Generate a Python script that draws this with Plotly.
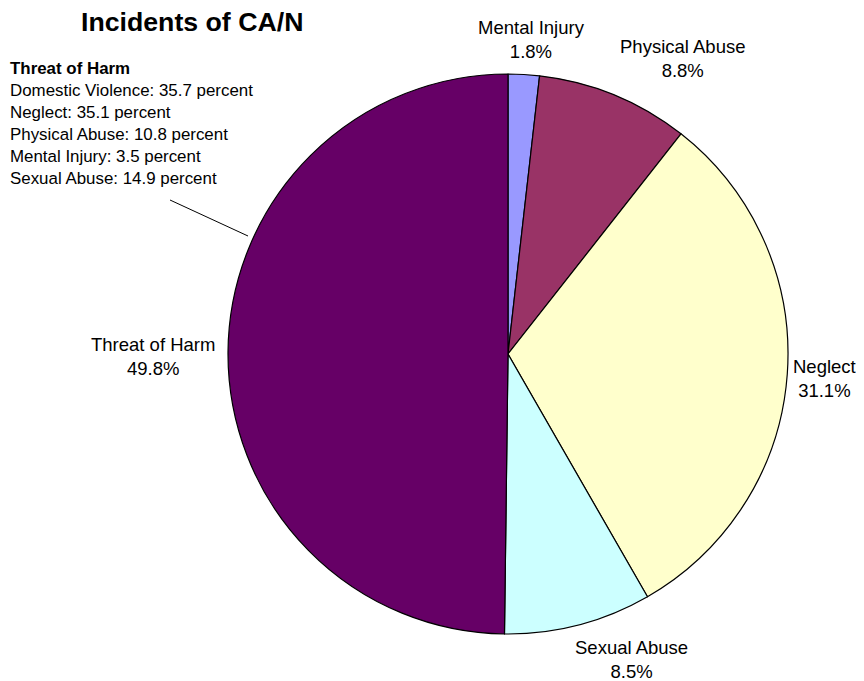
import plotly.graph_objects as go

# page body adds an 8px margin at the top-left; fill the rest of the window
OFF = 8
W, H = 864 - OFF, 681 - OFF

categories = ['Mental Injury', 'Physical Abuse', 'Neglect', 'Sexual Abuse', 'Threat of Harm']
percents = [1.8, 8.8, 31.1, 8.5, 49.8]
colors = ['#9999FF', '#993366', '#FFFFCC', '#CCFFFF', '#660066']

# breakdown shown in the side note
toh_items = ['Domestic Violence', 'Neglect', 'Physical Abuse', 'Mental Injury', 'Sexual Abuse']
toh_values = [35.7, 35.1, 10.8, 3.5, 14.9]

# label anchors in page pixels (text placement only)
label_pos = [(531, 39, 'center'), (682, 59, 'center'), (858, 378, 'right'),
             (631, 659, 'center'), (153, 356, 'center')]

FONT = 'Liberation Sans, Arial, sans-serif'


def px(x, y):
    # page pixel -> paper coordinates
    return (x - OFF) / W, 1 - (y - OFF) / H


fig = go.Figure()

cx, cy, r = 508, 354, 280
x0, y1 = px(cx - r, cy - r)
x1, y0 = px(cx + r, cy + r)

fig.add_trace(go.Pie(
    labels=categories,
    values=percents,
    sort=False,
    direction='clockwise',
    rotation=0,
    marker=dict(colors=colors, line=dict(color='black', width=1.2)),
    textinfo='none',
    hoverinfo='label+percent',
    showlegend=False,
    domain=dict(x=[x0, x1], y=[y0, y1]),
))

annotations = []
for name, val, (lx, ly, anchor) in zip(categories, percents, label_pos):
    ax, ay = px(lx, ly)
    annotations.append(dict(
        x=ax, y=ay, xref='paper', yref='paper',
        text=f'{name}<br>{val}%', showarrow=False,
        xanchor=anchor, yanchor='middle', align='center',
        font=dict(family=FONT, size=18.5, color='black'),
    ))

note = '<b>Threat of Harm</b><br>' + '<br>'.join(
    f'{n}: {v} percent' for n, v in zip(toh_items, toh_values))
nx, ny = px(8, 57)
annotations.append(dict(
    x=nx, y=ny, xref='paper', yref='paper', text=note, showarrow=False,
    xanchor='left', yanchor='top', align='left',
    font=dict(family=FONT, size=16.9, color='black'),
))

tx, ty = px(192, 22)
annotations.append(dict(
    x=tx, y=ty, xref='paper', yref='paper', text='<b>Incidents of CA/N</b>',
    showarrow=False, xanchor='center', yanchor='middle',
    font=dict(family=FONT, size=26.7, color='black'),
))

lx0, ly0 = px(170, 200)
lx1, ly1 = px(248, 236)

fig.update_layout(
    width=W, height=H,
    margin=dict(l=0, r=0, t=0, b=0),
    paper_bgcolor='white',
    plot_bgcolor='white',
    annotations=annotations,
    shapes=[dict(type='line', xref='paper', yref='paper',
                 x0=lx0, y0=ly0, x1=lx1, y1=ly1,
                 line=dict(color='black', width=1))],
)

fig.write_html('out.html')
